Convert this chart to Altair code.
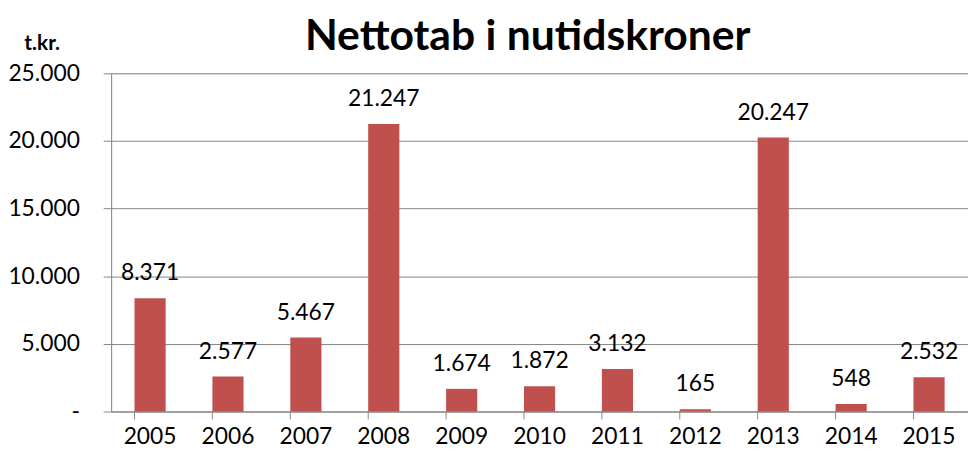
import altair as alt
import pandas as pd

years = ['2005', '2006', '2007', '2008', '2009', '2010', '2011', '2012', '2013', '2014', '2015']
values = [8371, 2577, 5467, 21247, 1674, 1872, 3132, 165, 20247, 548, 2532]
title_text = "Nettotab i nutidskroner"
unit_label = "t.kr."
y_ticks = [0, 5000, 10000, 15000, 20000, 25000]

df = pd.DataFrame({'year': years, 'value': values})
df['label'] = [f"{v:,}".replace(',', '.') for v in values]

W, H = 864, 341
FONT = 'Lato'
GRID = '#868686'
BAR = '#C0504D'
TXT = '#000000'

xscale = alt.Scale(paddingInner=0.6, paddingOuter=0.3)

x = alt.X('year:N', sort=years, scale=xscale,
          axis=alt.Axis(title=None, ticks=False, labelPadding=14, labelFontSize=23,
                        labelFont=FONT, labelColor=TXT, domainColor=GRID, labelAngle=0,
                        labelBaseline='top'))
y = alt.Y('value:Q', scale=alt.Scale(domain=[0, 25000], nice=False),
          axis=alt.Axis(values=y_ticks, title=unit_label, titleAngle=0, titleX=-70, titleY=-24,
                        titleAlign='center', titleBaseline='alphabetic', titleFont=FONT,
                        titleFontSize=21, titleFontWeight='bold', titleColor=TXT,
                        labelExpr="datum.value == 0 ? '-\u00a0\u00a0' : replace(format(datum.value, ','), ',', '.')",
                        tickSize=8, labelPadding=24, grid=True, gridColor=GRID, domainColor=GRID,
                        tickColor=GRID, labelFontSize=23, labelFont=FONT, labelColor=TXT,
                        labelBaseline='middle'))

bars = alt.Chart(df).mark_bar(color=BAR).encode(x=x, y=y)
labels = alt.Chart(df).mark_text(dy=-18, baseline='alphabetic', fontSize=23, font=FONT,
                                 color=TXT).encode(x=x, y=y, text='label:N')
ticks = alt.Chart(df).mark_rule(color=GRID).encode(
    x=alt.X('year:N', sort=years, bandPosition=0),
    y=alt.value(H), y2=alt.value(H + 8))
title = alt.Chart(pd.DataFrame({'t': [title_text]})).mark_text(
    font=FONT, fontSize=43, fontWeight='bold', align='center', baseline='alphabetic',
    color=TXT).encode(x=alt.value(420), y=alt.value(-24), text='t:N')

chart = alt.layer(bars, labels, ticks, title).properties(
    width=W, height=H,
    autosize=alt.AutoSizeParams(type='none'),
    padding={'left': 104, 'top': 64, 'right': 0, 'bottom': 38},
).configure_view(stroke=None).configure(background='white')

chart.save("out.html", embed_options={"renderer": "svg", "actions": False})
